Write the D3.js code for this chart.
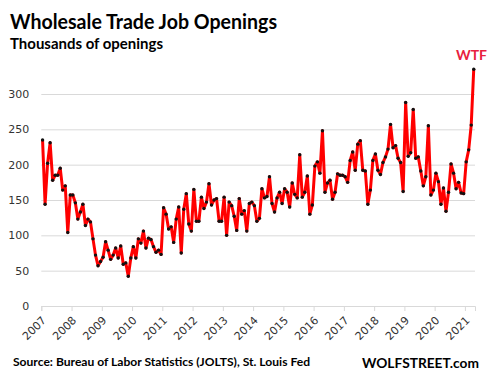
<!DOCTYPE html>
<html>
<head>
<meta charset="utf-8">
<script src="https://cdn.jsdelivr.net/npm/d3@7"></script>
<style>
  body { margin: 0; background: #fff; }
  svg { display: block; }
</style>
</head>
<body>
<script>
'use strict';

// monthly, Jan 2007 .. Apr 2021 (thousands)
const startYear = 2007;
const yearLabels = ["2007","2008","2009","2010","2011","2012","2013","2014",
                    "2015","2016","2017","2018","2019","2020","2021"];
const openings = [
  235,144,202,231,178,185,185,195,164,170,104,157,   // 2007
  157,146,123,133,144,114,123,119,95,72,57,63,      // 2008
  69,91,79,66,72,82,68,85,59,61,42,68,              // 2009
  84,68,95,89,106,82,96,94,84,76,79,73,             // 2010
  139,130,109,112,90,123,140,75,137,159,116,106,    // 2011
  165,120,120,154,138,147,173,143,150,152,120,120,  // 2012
  154,100,147,142,127,107,152,130,135,106,145,147,  // 2013
  142,120,124,166,153,155,183,145,133,153,161,145,  // 2014
  166,161,140,174,158,153,214,154,161,184,130,143,  // 2015
  198,204,188,248,161,174,178,151,161,187,185,185,  // 2016
  183,175,206,218,192,229,234,192,191,144,164,206,  // 2017
  215,192,186,203,211,222,257,224,227,209,203,162,  // 2018
  288,212,217,278,209,211,191,170,183,255,157,164,  // 2019
  188,176,144,167,134,161,201,188,166,175,160,159,  // 2020
  204,221,256,335                                   // 2021
];
const yTicks = [0, 50, 100, 150, 200, 250, 300];

const width = 489, height = 382;
const left = 41.3, right = 475, y0 = 306, y300 = 94;

const svg = d3.select("body").append("svg")
    .attr("width", width)
    .attr("height", height);

const x = d3.scaleLinear()
    .domain([0, openings.length])
    .range([left, right]);

const y = d3.scaleLinear()
    .domain([0, 300])
    .range([y0, y300]);

// gridlines + y labels
const yAxis = svg.append("g")
    .attr("transform", "translate(" + left + ",0)")
    .call(d3.axisLeft(y).tickValues(yTicks).tickSize(-(right - left)).tickPadding(12));
yAxis.select(".domain").remove();
yAxis.selectAll("line").attr("stroke", "#d9d9d9").attr("stroke-width", 1);
yAxis.selectAll("text")
    .attr("font-family", "DejaVu Sans, Verdana, sans-serif")
    .attr("font-size", 11)
    .attr("fill", "#333");

// x axis with year ticks
const xAxis = svg.append("g")
    .attr("transform", "translate(0," + y0 + ")")
    .call(d3.axisBottom(x)
        .tickValues(yearLabels.map((d, i) => i * 12))
        .tickFormat((d, i) => yearLabels[i])
        .tickSize(5)
        .tickSizeOuter(5));
xAxis.select(".domain").attr("stroke", "#d9d9d9");
xAxis.selectAll("line").attr("stroke", "#d9d9d9");
xAxis.selectAll("text")
    .attr("font-family", "DejaVu Sans, Verdana, sans-serif")
    .attr("font-size", 11)
    .attr("fill", "#333")
    .attr("text-anchor", "end")
    .attr("dy", null)
    .attr("y", null)
    .attr("transform", "translate(5,15) rotate(-45)");

// line
const line = d3.line()
    .x((d, i) => x(i + 0.5))
    .y(d => y(d));

svg.append("path")
    .datum(openings)
    .attr("fill", "none")
    .attr("stroke", "#ff0000")
    .attr("stroke-width", 3)
    .attr("stroke-linejoin", "round")
    .attr("d", line);

svg.append("g")
    .selectAll("circle")
    .data(openings)
    .enter().append("circle")
      .attr("cx", (d, i) => x(i + 0.5))
      .attr("cy", d => y(d))
      .attr("r", 1.7)
      .attr("fill", "#111");

// titles
svg.append("text")
    .attr("x", 10).attr("y", 29)
    .attr("font-family", "Lato, sans-serif")
    .attr("font-weight", "bold")
    .attr("font-size", 21)
    .attr("textLength", 267)
    .attr("lengthAdjust", "spacingAndGlyphs")
    .text("Wholesale Trade Job Openings");

svg.append("text")
    .attr("x", 10).attr("y", 49)
    .attr("font-family", "Lato, sans-serif")
    .attr("font-weight", "bold")
    .attr("font-size", 14.5)
    .attr("textLength", 153)
    .attr("lengthAdjust", "spacingAndGlyphs")
    .text("Thousands of openings");

svg.append("text")
    .attr("x", 487).attr("y", 60)
    .attr("text-anchor", "end")
    .attr("font-family", "Lato, sans-serif")
    .attr("font-weight", "bold")
    .attr("font-size", 14)
    .attr("fill", "#e8213d")
    .text("WTF");

svg.append("text")
    .attr("x", 13).attr("y", 366)
    .attr("font-family", "Lato, sans-serif")
    .attr("font-weight", "bold")
    .attr("font-size", 12)
    .attr("textLength", 297)
    .attr("lengthAdjust", "spacingAndGlyphs")
    .text("Source: Bureau of Labor Statistics (JOLTS), St. Louis Fed");

svg.append("text")
    .attr("x", 362).attr("y", 368)
    .attr("font-family", "Lato, sans-serif")
    .attr("font-weight", "bold")
    .attr("font-size", 14)
    .attr("textLength", 117)
    .attr("lengthAdjust", "spacingAndGlyphs")
    .text("WOLFSTREET.com");
</script>
</body>
</html>
